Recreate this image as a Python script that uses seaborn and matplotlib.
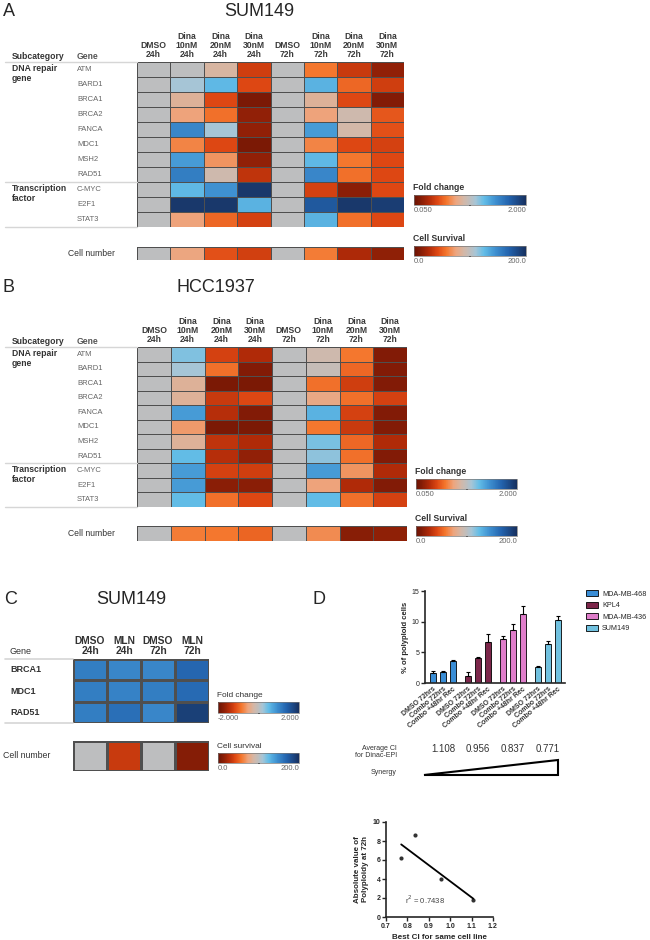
import numpy as np
import pandas as pd
import matplotlib
matplotlib.use("Agg")
import matplotlib.pyplot as plt
import matplotlib.font_manager as fm
from matplotlib.colors import LinearSegmentedColormap, TwoSlopeNorm
from matplotlib.cm import ScalarMappable
from matplotlib.patches import Polygon
import seaborn as sns

# ---------------- data ----------------
genes = ["ATM", "BARD1", "BRCA1", "BRCA2", "FANCA", "MDC1", "MSH2", "RAD51",
         "C-MYC", "E2F1", "STAT3"]
dina_conditions = ["DMSO\n24h", "Dina\n10nM\n24h", "Dina\n20nM\n24h", "Dina\n30nM\n24h",
                   "DMSO\n72h", "Dina\n10nM\n72h", "Dina\n20nM\n72h", "Dina\n30nM\n72h"]

# fold change (1.0 = DMSO)
sum149_fold = [
    [1, 1.00, 0.88, 0.40, 1, 0.60, 0.38, 0.20],
    [1, 1.10, 1.27, 0.45, 1, 1.30, 0.55, 0.40],
    [1, 0.85, 0.45, 0.12, 1, 0.85, 0.45, 0.15],
    [1, 0.75, 0.58, 0.20, 1, 0.75, 0.92, 0.50],
    [1, 1.50, 1.10, 0.20, 1, 1.40, 0.90, 0.48],
    [1, 0.65, 0.45, 0.12, 1, 0.65, 0.45, 0.42],
    [1, 1.40, 0.70, 0.20, 1, 1.27, 0.60, 0.45],
    [1, 1.55, 0.92, 0.35, 1, 1.50, 0.58, 0.45],
    [1, 1.27, 1.45, 1.95, 1, 0.42, 0.18, 0.45],
    [1, 1.95, 1.95, 1.30, 1, 1.75, 1.95, 1.92],
    [1, 0.75, 0.55, 0.42, 1, 1.30, 0.58, 0.45],
]
sum149_survival = [100, 75, 45, 38, 100, 60, 25, 15]

hcc1937_fold = [
    [1, 1.18, 0.42, 0.30, 1, 0.92, 0.60, 0.15],
    [1, 1.10, 0.58, 0.15, 1, 0.97, 0.55, 0.15],
    [1, 0.85, 0.12, 0.12, 1, 0.58, 0.40, 0.15],
    [1, 0.85, 0.38, 0.45, 1, 0.78, 0.58, 0.42],
    [1, 1.40, 0.32, 0.15, 1, 1.30, 0.42, 0.15],
    [1, 0.72, 0.12, 0.12, 1, 0.60, 0.38, 0.15],
    [1, 0.85, 0.35, 0.30, 1, 1.20, 0.55, 0.30],
    [1, 1.25, 0.32, 0.20, 1, 1.15, 0.58, 0.15],
    [1, 1.40, 0.42, 0.40, 1, 1.40, 0.70, 0.30],
    [1, 1.40, 0.18, 0.18, 1, 0.75, 0.30, 0.15],
    [1, 1.25, 0.58, 0.45, 1, 1.25, 0.58, 0.42],
]
hcc1937_survival = [100, 60, 58, 52, 100, 65, 13, 15]

mln_genes = ["BRCA1", "MDC1", "RAD51"]
mln_conditions = ["DMSO\n24h", "MLN\n24h", "DMSO\n72h", "MLN\n72h"]
mln_fold = [
    [1.10, 1.00, 1.00, 1.35],
    [1.10, 1.05, 1.10, 1.30],
    [1.10, 1.25, 1.00, 1.80],
]
mln_survival = [100, 35, 100, 12]

cell_lines = ["MDA-MB-468", "KPL4", "MDA-MB-436", "SUM149"]
treatments = ["DMSO 72hrs", "Combo 72hrs", "Combo +48hr Rec"]
polyploid_pct = [[1.7, 1.8, 3.6], [1.2, 4.1, 6.7], [7.1, 8.7, 11.3], [2.6, 6.3, 10.3]]
polyploid_err = [[0.2, 0.2, 0.1], [0.6, 0.2, 1.3], [0.5, 1.0, 1.2], [0.25, 0.6, 0.6]]
avg_ci = ["1.108", "0.956", "0.837", "0.771"]
best_ci = [0.771, 0.837, 0.956, 1.108]
poly_72h = [6.2, 8.6, 4.0, 1.8]
line_colors = {"MDA-MB-468": "#1f8ff0", "KPL4": "#8a1848",
               "MDA-MB-436": "#f06cd4", "SUM149": "#5ecaf2"}

# ---------------- style ----------------
sns.set_style("ticks")
plt.rcParams["font.family"] = ["Liberation Sans", "DejaVu Sans"]
installed = {f.name for f in fm.fontManager.ttflist}
narrow = "Liberation Sans Narrow" if "Liberation Sans Narrow" in installed else "Liberation Sans"
nscale = 1.0 if narrow != "Liberation Sans" else 0.85

cmap = LinearSegmentedColormap.from_list("fold", [
    (0.0, "#6b1304"), (0.06, "#861d06"), (0.13, "#b02a08"), (0.21, "#de4813"),
    (0.29, "#f4772e"), (0.37, "#eea47c"), (0.447, "#d3b8a8"), (0.5, "#bebebe"),
    (0.55, "#a6c5d6"), (0.625, "#63bde7"), (0.725, "#3f91d1"), (0.85, "#2262ad"),
    (1.0, "#17305f")])
fold_norm = TwoSlopeNorm(vmin=0.05, vcenter=1.0, vmax=2.0)
surv_norm = TwoSlopeNorm(vmin=0.0, vcenter=100.0, vmax=200.0)
mln_norm = TwoSlopeNorm(vmin=-2.0, vcenter=0.0, vmax=2.0)

W, H = 650, 940
fig = plt.figure(figsize=(W / 100, H / 100), dpi=100)


def px_axes(x0, y0, x1, y1):
    return fig.add_axes([x0 / W, 1 - y1 / H, (x1 - x0) / W, (y1 - y0) / H])


def heat(box, values, rows, cols, norm, label_x=None, row_kw=None, col_kw=None, lw=0.7):
    ax = px_axes(*box)
    df = pd.DataFrame(values, index=rows, columns=cols if cols else range(len(values[0])))
    sns.heatmap(df, ax=ax, cmap=cmap, norm=norm, cbar=False, linewidths=lw,
                linecolor="#4f4f4f", xticklabels=True, yticklabels=True)
    ax.set_xlabel("")
    ax.set_ylabel("")
    if cols:
        ax.xaxis.tick_top()
        ax.set_xticklabels(cols, rotation=0, **col_kw)
        ax.tick_params(axis="x", length=0, pad=2, top=True, bottom=False,
                       labeltop=True, labelbottom=False)
    else:
        ax.tick_params(axis="x", length=0, labelbottom=False, bottom=False)
    pad = (box[0] - label_x) * 0.72
    ax.set_yticklabels(rows, rotation=0, **row_kw)
    ax.tick_params(axis="y", length=0, pad=pad)
    return ax


def add_cbar(box, norm, title, lo, hi, bold=True, fs=6.2):
    cax = px_axes(*box)
    cb = fig.colorbar(ScalarMappable(norm=norm, cmap=cmap), cax=cax, orientation="horizontal")
    cb.set_ticks([norm.vcenter])
    cb.set_ticklabels([""])
    cax.tick_params(axis="x", length=2, width=1.2, color="black", direction="inout", pad=0)
    cb.outline.set_edgecolor("#777777")
    cb.outline.set_linewidth(0.5)
    cax.annotate(title, xy=(0, 1), xycoords="axes fraction", xytext=(-1, 2),
                 textcoords="offset points", ha="left", va="bottom", fontsize=fs,
                 fontweight="bold" if bold else "normal", color="#333333",
                 family=narrow if not bold else None)
    for x, txt, ha in [(0, lo, "left"), (1, hi, "right")]:
        cax.annotate(txt, xy=(x, 0), xycoords="axes fraction", xytext=(0, -1.5),
                     textcoords="offset points", ha=ha, va="top", fontsize=5.5,
                     color="#666666")


col_kw_ab = dict(fontsize=6.2, fontweight="bold", color="#3a3a3a", linespacing=1.0)
gene_kw_ab = dict(fontsize=5.5, color="#666666", ha="left")
cell_kw = dict(fontsize=6.2, color="#333333")

# ---------------- panel A ----------------
heat((137, 62, 404, 227), sum149_fold, genes, dina_conditions, fold_norm,
     label_x=77, row_kw=gene_kw_ab, col_kw=col_kw_ab)
heat((137, 247, 404, 260), [sum149_survival], ["Cell number"], None, surv_norm,
     label_x=115, row_kw=dict(cell_kw, ha="right"))
add_cbar((414, 195, 526, 205), fold_norm, "Fold change", "0.050", "2.000")
add_cbar((414, 246, 526, 256), surv_norm, "Cell Survival", "0.0", "200.0")

# ---------------- panel B ----------------
heat((137, 347, 407, 507), hcc1937_fold, genes, dina_conditions, fold_norm,
     label_x=77, row_kw=gene_kw_ab, col_kw=col_kw_ab)
heat((137, 526, 407, 541), [hcc1937_survival], ["Cell number"], None, surv_norm,
     label_x=115, row_kw=dict(cell_kw, ha="right"))
add_cbar((416, 479, 517, 489), fold_norm, "Fold change", "0.050", "2.000")
add_cbar((416, 526, 517, 536), surv_norm, "Cell Survival", "0.0", "200.0")

# ---------------- panel C ----------------
heat((73, 659, 209, 723), mln_fold, mln_genes, mln_conditions, mln_norm,
     label_x=10, row_kw=dict(fontsize=7.6 * nscale, fontweight="bold", color="#333333",
                             ha="left", family=narrow),
     col_kw=dict(fontsize=7.4, fontweight="bold", color="#333333", linespacing=1.05,
                 family=narrow), lw=0.9)
heat((73, 741, 209, 771), [mln_survival], ["Cell number"], None, surv_norm,
     label_x=50, row_kw=dict(fontsize=6.3, color="#333333", ha="right",
                             family=narrow), lw=0.9)
add_cbar((218, 702, 299, 713), mln_norm, "Fold change", "-2.000", "2.000", bold=False, fs=7 * nscale)
add_cbar((218, 753, 299, 763), surv_norm, "Cell survival", "0.0", "200.0", bold=False, fs=7 * nscale)

# ---------------- panel D: bars ----------------
rows = []
for g, line in enumerate(cell_lines):
    for c, trt in enumerate(treatments):
        rows.append(dict(line=line, treatment=trt, pct=polyploid_pct[g][c],
                         err=polyploid_err[g][c], pos=g * 3.5 + c))
bars = pd.DataFrame(rows)

axd = px_axes(425, 591, 565, 683)
sns.barplot(data=bars, x="pos", y="pct", hue="line", hue_order=cell_lines,
            palette=line_colors, native_scale=True, dodge=False, width=0.6,
            errorbar=None, edgecolor="black", linewidth=0.6, ax=axd)
axd.errorbar(bars["pos"], bars["pct"], yerr=[np.zeros(len(bars)), bars["err"]],
             fmt="none", ecolor="black", elinewidth=0.8, capsize=1.6, capthick=0.8)
axd.set_xlim(-0.8, 13.2)
axd.set_ylim(0, 15)
axd.set_yticks([0, 5, 10, 15])
axd.set_xticks(bars["pos"])
axd.set_xticklabels(bars["treatment"], rotation=40, ha="right", rotation_mode="anchor",
                    fontsize=5, fontweight="bold", color="#333333")
axd.tick_params(axis="x", length=0, pad=2)
axd.tick_params(axis="y", length=3, width=1, labelsize=5, pad=1)
axd.set_xlabel("")
axd.set_ylabel("% of polyploid cells", fontsize=5.5, fontweight="bold", labelpad=2)
sns.despine(ax=axd)
for s in ("left", "bottom"):
    axd.spines[s].set_linewidth(1.2)
sns.move_legend(axd, "upper left", bbox_to_anchor=(1.13, 1.04), frameon=False,
                title=None, fontsize=5.2, handlelength=1.6, handleheight=0.9,
                labelspacing=0.55, borderaxespad=0, handletextpad=0.6)
for g, txt in enumerate(avg_ci):
    axd.text(g * 3.5 + 1, -0.72, txt, transform=axd.get_xaxis_transform(),
             ha="center", va="center", fontsize=7, color="#333333")

# ---------------- panel D: scatter ----------------
axs = px_axes(386, 822, 493, 917)
sns.regplot(x=best_ci, y=poly_72h, ci=None, truncate=True, ax=axs,
            scatter_kws=dict(s=9, color="black", linewidths=0),
            line_kws=dict(color="black", lw=1.3))
axs.set_xlim(0.7, 1.2)
axs.set_ylim(0, 10)
axs.set_xticks([0.7, 0.8, 0.9, 1.0, 1.1, 1.2])
axs.set_yticks([0, 2, 4, 6, 8, 10])
axs.tick_params(labelsize=5, length=3, width=1, pad=1)
for lbl in axs.get_xticklabels() + axs.get_yticklabels():
    lbl.set_fontweight("bold")
axs.set_xlabel("Best CI for same cell line", fontsize=5.8, fontweight="bold", labelpad=3)
axs.set_ylabel("Absolute value of\nPolyploidy at 72h", fontsize=5.8, fontweight="bold",
               labelpad=3)
axs.text(0.79, 1.8, "r$^2$ = 0.7438", fontsize=5.5, color="#444444", va="center")
sns.despine(ax=axs)
for s in ("left", "bottom"):
    axs.spines[s].set_linewidth(1.2)

# ---------------- overlay text / rules ----------------
ov = px_axes(0, 0, W, H)
ov.set_xlim(0, W)
ov.set_ylim(H, 0)
ov.axis("off")

for lab, x, y in [("A", 3, 11), ("B", 3, 287), ("C", 4, 599), ("D", 312, 599)]:
    ov.text(x, y, lab, fontsize=13, ha="left", va="center")
for title, x, y in [("SUM149", 259, 11), ("HCC1937", 216, 287), ("SUM149", 131, 599)]:
    ov.text(x, y, title, fontsize=13, ha="center", va="center")

for top, mid, bot in [(62, 182, 227), (347, 463, 507)]:
    ov.text(12, top - 1, "Subcategory", fontsize=6.2, fontweight="bold", color="#333333",
            va="bottom")
    ov.text(77, top - 1, "Gene", fontsize=6.2, fontweight="bold", color="#555555",
            va="bottom")
    ov.text(12, top + 2, "DNA repair\ngene", fontsize=6.2, fontweight="bold",
            color="#333333", va="top", linespacing=1.2)
    ov.text(12, mid + 2, "Transcription\nfactor", fontsize=6.2, fontweight="bold",
            color="#333333", va="top", linespacing=1.2)
    for y in (top, mid, bot):
        ov.plot([5, 137], [y, y], color="#d6d6d6", lw=1)

ov.text(10, 656, "Gene", fontsize=7.6 * nscale, color="#333333", va="bottom", family=narrow)
for y in (659, 723):
    ov.plot([5, 73], [y, y], color="#d6d6d6", lw=1.2)

ov.text(397, 752, "Average CI\nfor Dinac-EPI", fontsize=5, ha="right", va="center",
        color="#333333", linespacing=1.1)
ov.text(397, 772, "Synergy", fontsize=5, ha="right", va="center", color="#333333")
ov.add_patch(Polygon([(424, 775), (558, 760), (558, 775)], closed=True,
                     facecolor="white", edgecolor="black", lw=1.5))

fig.savefig("out.png", dpi=100)
